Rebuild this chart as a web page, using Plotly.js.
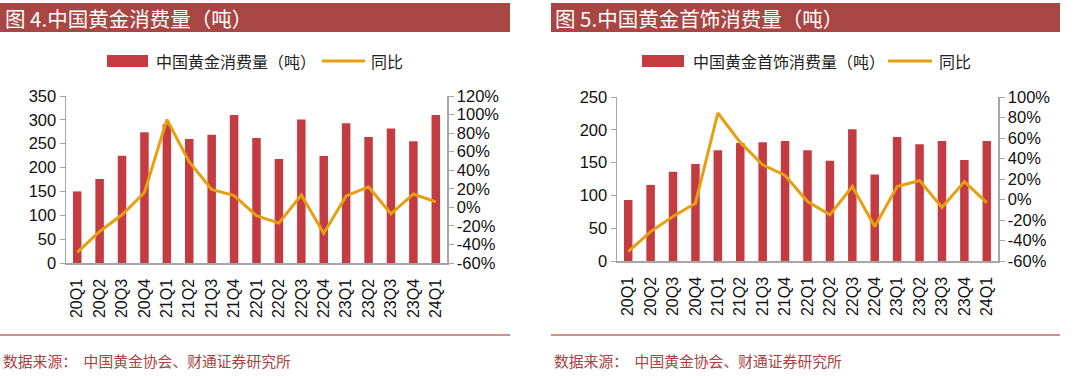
<!DOCTYPE html>
<html><head><meta charset="utf-8">
<script src="https://cdn.plot.ly/plotly-3.0.1.min.js"></script>
<style>
html,body{margin:0;padding:0;background:#fff;}
#c1{position:absolute;left:0;top:0;width:540px;height:376px;}
#c2{position:absolute;left:540px;top:0;width:540px;height:376px;}
</style></head>
<body>
<div id="c1"></div><div id="c2"></div>
<script>
const categories = ['20Q1','20Q2','20Q3','20Q4','21Q1','21Q2','21Q3','21Q4','22Q1','22Q2','22Q3','22Q4','23Q1','23Q2','23Q3','23Q4','24Q1'];
// Chart 4: China gold consumption (tonnes) and YoY
const goldConsumption = [150,176,225,274,291,260,269,310,262,218,301,224,293,264,282,255,310];
const goldConsumptionYoY = [-0.486,-0.26,-0.08,0.16,0.946,0.49,0.194,0.126,-0.09,-0.17,0.133,-0.28,0.123,0.22,-0.07,0.144,0.058];
// Chart 5: China gold jewelry consumption (tonnes) and YoY
const jewelryConsumption = [93,116,136,148,169,180,181,183,169,153,201,132,189,178,183,154,183];
const jewelryConsumptionYoY = [-0.509,-0.313,-0.166,-0.036,0.844,0.557,0.339,0.234,-0.02,-0.15,0.127,-0.264,0.127,0.185,-0.078,0.175,-0.03];
// Tick labels
const leftTicks1 = [0,50,100,150,200,250,300,350];
const rightTicks1 = [-0.6,-0.4,-0.2,0,0.2,0.4,0.6,0.8,1.0,1.2];
const rightTickText1 = ['-60%','-40%','-20%','0%','20%','40%','60%','80%','100%','120%'];
const leftTicks2 = [0,50,100,150,200,250];
const rightTicks2 = [-0.6,-0.4,-0.2,0,0.2,0.4,0.6,0.8,1.0];
const rightTickText2 = ['-60%','-40%','-20%','0%','20%','40%','60%','80%','100%'];
const titles = ['图 4.中国黄金消费量（吨）','图 5.中国黄金首饰消费量（吨）'];
const barNames = ['中国黄金消费量（吨）','中国黄金首饰消费量（吨）'];
const lineName = '同比';
const sourceText = '数据来源：  中国黄金协会、财通证券研究所';

const BAR = '#C43C42', LINE = '#E6A00F', BAND = '#A84643', AX = '#A6A6A6', SRC = '#A8423E';
const NUM = 'Liberation Sans, Arial, sans-serif';
const CJK = 'Noto Sans CJK SC, sans-serif';

function build(div, o){
  const W = 540, H = 376;
  const m = o.m;
  const pw = W - m.l - m.r, ph = H - m.t - m.b;
  const px = x => (x - m.l)/pw;
  const py = y => 1 - (y - m.t)/ph;
  const traces = [
    {type:'bar', x:categories, y:o.bars, name:o.barName, marker:{color:BAR}, yaxis:'y', showlegend:false},
    {type:'scatter', mode:'lines', x:categories, y:o.yoy, name:lineName, line:{color:LINE, width:3}, yaxis:'y2', showlegend:false}
  ];
  const shapes = [
    {type:'rect', xref:'paper', yref:'paper', x0:px(o.band[0]), x1:px(o.band[1]), y0:py(3), y1:py(32), fillcolor:BAND, line:{width:0}, layer:'below'},
    {type:'rect', xref:'paper', yref:'paper', x0:px(o.leg.r0), x1:px(o.leg.r1), y0:py(55), y1:py(67), fillcolor:BAR, line:{width:0}},
    {type:'line', xref:'paper', yref:'paper', x0:px(o.leg.l0), x1:px(o.leg.l1), y0:py(61), y1:py(61), line:{color:LINE, width:3}},
    {type:'line', xref:'paper', yref:'paper', x0:px(o.band[0]), x1:px(o.band[1]), y0:py(335), y1:py(335), line:{color:'#BE6D68', width:1.5}}
  ];
  const annotations = [
    {xref:'paper', yref:'paper', x:px(o.titleX), y:py(18), xanchor:'left', yanchor:'middle', text:o.title, showarrow:false, font:{family:CJK, size:20.5, color:'#ffffff'}},
    {xref:'paper', yref:'paper', x:px(o.leg.t1), y:py(61), xanchor:'left', yanchor:'middle', text:o.barName, showarrow:false, font:{family:CJK, size:16, color:'#222'}},
    {xref:'paper', yref:'paper', x:px(o.leg.t2), y:py(61), xanchor:'left', yanchor:'middle', text:lineName, showarrow:false, font:{family:CJK, size:16, color:'#222'}},
    {xref:'paper', yref:'paper', x:px(o.band[0]+1), y:py(360), xanchor:'left', yanchor:'middle', text:sourceText, showarrow:false, font:{family:CJK, size:14.8, color:SRC}}
  ];
  const layout = {
    width:W, height:H, margin:m, paper_bgcolor:'#fff', plot_bgcolor:'rgba(0,0,0,0)',
    showlegend:false, bargap:0.62,
    font:{family:NUM, size:16, color:'#111'},
    xaxis:{type:'category', showline:true, linecolor:AX, linewidth:1.5, ticks:'outside', ticklen:8, tickcolor:'rgba(0,0,0,0)', tickangle:-90, tickfont:{family:NUM, size:16, color:'#111'}, showgrid:false, zeroline:false, fixedrange:true},
    yaxis:{range:o.yr, tickvals:o.lt, showline:true, linecolor:AX, linewidth:1.5, ticks:'outside', ticklen:5, tickcolor:AX, showgrid:false, zeroline:false, tickfont:{family:NUM, size:16.5, color:'#111'}},
    yaxis2:{range:o.y2r, tickvals:o.rt, ticktext:o.rtt, overlaying:'y', side:'right', showline:true, linecolor:AX, linewidth:1.5, ticks:'outside', ticklen:5, tickcolor:AX, showgrid:false, zeroline:false, tickfont:{family:NUM, size:16.5, color:'#111'}},
    shapes:shapes, annotations:annotations
  };
  Plotly.newPlot(div, traces, layout, {staticPlot:true, displayModeBar:false});
}

build('c1', {
  m:{l:66, r:93, t:96, b:113, pad:0},
  bars:goldConsumption, yoy:goldConsumptionYoY, barName:barNames[0], title:titles[0],
  yr:[0,350], y2r:[-0.6,1.2], lt:leftTicks1, rt:rightTicks1, rtt:rightTickText1,
  band:[0,510], titleX:3,
  leg:{r0:107, r1:148, l0:322, l1:365, t1:154, t2:369}
});
build('c2', {
  m:{l:77, r:82, t:97, b:115, pad:0},
  bars:jewelryConsumption, yoy:jewelryConsumptionYoY, barName:barNames[1], title:titles[1],
  yr:[0,250], y2r:[-0.6,1.0], lt:leftTicks2, rt:rightTicks2, rtt:rightTickText2,
  band:[11,520], titleX:13,
  leg:{r0:102, r1:144, l0:348, l1:392, t1:151, t2:397}
});
</script>
</body></html>
